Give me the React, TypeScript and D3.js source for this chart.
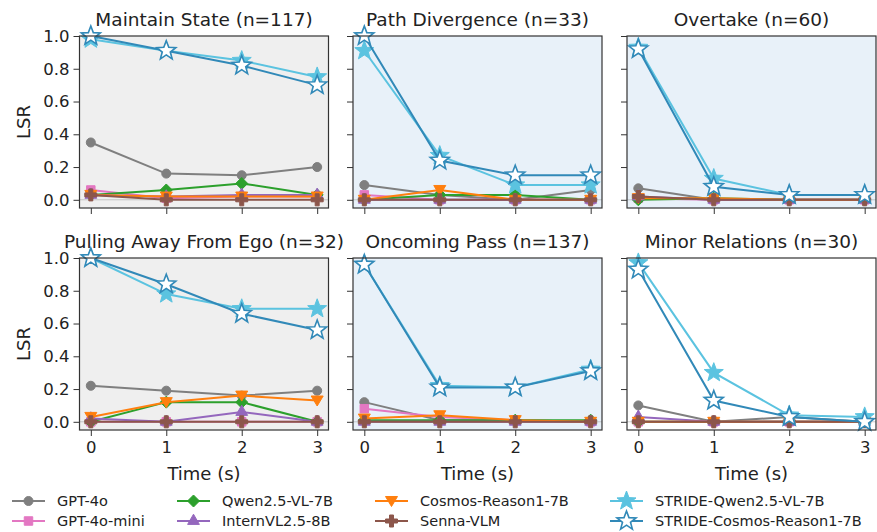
import React, { useEffect, useRef } from 'react';
import * as d3 from 'd3';

// time steps on the x axis
const times = [0, 1, 2, 3];
const xTickLabels = ['0', '1', '2', '3'];
const yTicks = [0, 0.2, 0.4, 0.6, 0.8, 1.0];

const scenarios = [
  'Maintain State (n=117)',
  'Path Divergence (n=33)',
  'Overtake (n=60)',
  'Pulling Away From Ego (n=32)',
  'Oncoming Pass (n=137)',
  'Minor Relations (n=30)',
];
const panelBg = ['#efefef', '#e8f1f9', '#e8f1f9', '#efefef', '#e8f1f9', '#ffffff'];

// LSR per model, one row per scenario (same order as scenarios)
const gpt4o = [
  [0.35, 0.16, 0.15, 0.2],
  [0.09, 0.03, 0.0, 0.06],
  [0.07, 0.0, 0.0, 0.0],
  [0.22, 0.19, 0.16, 0.19],
  [0.12, 0.01, 0.01, 0.0],
  [0.1, 0.0, 0.03, 0.0],
];
const gpt4oMini = [
  [0.06, 0.01, 0.02, 0.02],
  [0.03, 0.0, 0.0, 0.0],
  [0.01, 0.0, 0.0, 0.0],
  [0.0, 0.0, 0.0, 0.0],
  [0.08, 0.03, 0.01, 0.0],
  [0.0, 0.0, 0.0, 0.0],
];
const qwen = [
  [0.03, 0.06, 0.1, 0.03],
  [0.0, 0.03, 0.03, 0.0],
  [0.0, 0.01, 0.0, 0.0],
  [0.0, 0.12, 0.12, 0.0],
  [0.01, 0.01, 0.01, 0.01],
  [0.0, 0.0, 0.0, 0.0],
];
const internVL = [
  [0.03, 0.02, 0.03, 0.03],
  [0.0, 0.0, 0.0, 0.0],
  [0.02, 0.0, 0.0, 0.0],
  [0.02, 0.0, 0.06, 0.0],
  [0.0, 0.0, 0.0, 0.0],
  [0.03, 0.0, 0.0, 0.0],
];
const cosmos = [
  [0.03, 0.02, 0.02, 0.02],
  [0.0, 0.06, 0.0, 0.0],
  [0.01, 0.01, 0.0, 0.0],
  [0.03, 0.12, 0.16, 0.13],
  [0.02, 0.04, 0.01, 0.0],
  [0.0, 0.0, 0.0, 0.0],
];
const senna = [
  [0.03, 0.0, 0.0, 0.0],
  [0.0, 0.0, 0.0, 0.0],
  [0.02, 0.0, 0.0, 0.0],
  [0.0, 0.0, 0.0, 0.0],
  [0.0, 0.0, 0.0, 0.0],
  [0.0, 0.0, 0.0, 0.0],
];
const strideQwen = [
  [0.98, 0.91, 0.85, 0.75],
  [0.91, 0.27, 0.09, 0.09],
  [0.93, 0.13, 0.03, 0.03],
  [1.0, 0.78, 0.69, 0.69],
  [0.96, 0.22, 0.21, 0.32],
  [0.97, 0.3, 0.04, 0.03],
];
const strideCosmos = [
  [1.0, 0.91, 0.82, 0.7],
  [1.0, 0.24, 0.15, 0.15],
  [0.92, 0.08, 0.03, 0.03],
  [1.0, 0.84, 0.66, 0.56],
  [0.96, 0.21, 0.21, 0.31],
  [0.93, 0.13, 0.03, 0.0],
];

const models = [
  { name: 'GPT-4o', color: '#7f7f7f', marker: 'circle', values: gpt4o },
  { name: 'GPT-4o-mini', color: '#e377c2', marker: 'square', values: gpt4oMini },
  { name: 'Qwen2.5-VL-7B', color: '#2ca02c', marker: 'diamond', values: qwen },
  { name: 'InternVL2.5-8B', color: '#9467bd', marker: 'triUp', values: internVL },
  { name: 'Cosmos-Reason1-7B', color: '#ff7f0e', marker: 'triDown', values: cosmos },
  { name: 'Senna-VLM', color: '#8c564b', marker: 'plus', values: senna },
  { name: 'STRIDE-Qwen2.5-VL-7B', color: '#5bc3e0', marker: 'star', values: strideQwen },
  { name: 'STRIDE-Cosmos-Reason1-7B', color: '#3189b8', marker: 'starOpen', values: strideCosmos },
];

const FONT = 'DejaVu Sans, sans-serif';

const starPath = (r: number) => {
  const pts: [number, number][] = [];
  for (let i = 0; i < 10; i++) {
    const rr = i % 2 === 0 ? r : r * 0.42;
    const a = (Math.PI / 5) * i - Math.PI / 2;
    pts.push([rr * Math.cos(a), rr * Math.sin(a)]);
  }
  return 'M' + pts.map((p) => p.join(',')).join('L') + 'Z';
};

const markerPath = (m: string) => {
  if (m === 'circle') return d3.symbol(d3.symbolCircle, 64)()!;
  if (m === 'square') return d3.symbol(d3.symbolSquare, 72)()!;
  if (m === 'diamond') return 'M0,-6L6,0L0,6L-6,0Z';
  if (m === 'triUp') return d3.symbol(d3.symbolTriangle, 60)()!;
  if (m === 'triDown') return 'M0,5.5L-6,-4.5L6,-4.5Z';
  if (m === 'plus') return d3.symbol(d3.symbolCross, 80)()!;
  return starPath(10);
};

const App = () => {
  const svgRef = useRef<SVGSVGElement>(null);

  useEffect(() => {
    document.body.style.margin = '0';
    const svg = d3.select(svgRef.current);
    svg.selectAll('*').remove();

    const colLeft = [79.5, 353, 627];
    const rowTop = [36, 258];
    const w = 249;
    const h = 172;

    scenarios.forEach((title, i) => {
      const col = i % 3;
      const row = Math.floor(i / 3);
      const x0 = colLeft[col];
      const y0 = rowTop[row];

      const x = d3.scaleLinear().domain([-0.15, 3.15]).range([x0, x0 + w]);
      const y = d3.scaleLinear().domain([-0.05, 1.0]).range([y0 + h, y0]);

      const g = svg.append('g');

      g.append('rect')
        .attr('x', x0)
        .attr('y', y0)
        .attr('width', w)
        .attr('height', h)
        .attr('fill', panelBg[i]);

      // faint zero line
      g.append('line')
        .attr('x1', x0)
        .attr('x2', x0 + w)
        .attr('y1', y(0))
        .attr('y2', y(0))
        .attr('stroke', '#999')
        .attr('stroke-opacity', 0.5)
        .attr('stroke-width', 1);

      const line = d3
        .line<number>()
        .x((d, j) => x(times[j]))
        .y((d) => y(d));

      models.forEach((m) => {
        const vals = m.values[i];
        g.append('path')
          .attr('d', line(vals))
          .attr('fill', 'none')
          .attr('stroke', m.color)
          .attr('stroke-width', 2);

        g.selectAll(null)
          .data(vals)
          .enter()
          .append('path')
          .attr('d', markerPath(m.marker))
          .attr('transform', (d, j) => `translate(${x(times[j])},${y(d)})`)
          .attr('fill', m.marker === 'starOpen' ? '#ffffff' : m.color)
          .attr('stroke', m.color)
          .attr('stroke-width', m.marker === 'starOpen' ? 1.6 : 1)
          .attr('stroke-linejoin', 'miter');
      });

      // spines
      g.append('rect')
        .attr('x', x0)
        .attr('y', y0)
        .attr('width', w)
        .attr('height', h)
        .attr('fill', 'none')
        .attr('stroke', '#333')
        .attr('stroke-width', 1.2);

      // y ticks
      const yAxis = d3
        .axisLeft(y)
        .tickValues(yTicks)
        .tickSize(6)
        .tickPadding(4)
        .tickFormat((d) => (col === 0 ? d3.format('.1f')(d as number) : ''));
      const ya = g.append('g').attr('transform', `translate(${x0},0)`).call(yAxis);
      ya.select('.domain').remove();
      ya.selectAll('line').attr('stroke', '#333').attr('stroke-width', 1);
      ya.selectAll('text').attr('font-family', FONT).attr('font-size', 16.5).attr('fill', '#222');

      // x ticks
      const xAxis = d3
        .axisBottom(x)
        .tickValues(times)
        .tickSize(6)
        .tickPadding(5)
        .tickFormat((d, j) => (row === 1 ? xTickLabels[j] : ''));
      const xa = g.append('g').attr('transform', `translate(0,${y0 + h})`).call(xAxis);
      xa.select('.domain').remove();
      xa.selectAll('line').attr('stroke', '#333').attr('stroke-width', 1);
      xa.selectAll('text').attr('font-family', FONT).attr('font-size', 16.5).attr('fill', '#222');

      g.append('text')
        .attr('x', x0 + w / 2)
        .attr('y', y0 - 10)
        .attr('text-anchor', 'middle')
        .attr('font-family', FONT)
        .attr('font-size', 18.5)
        .attr('fill', '#222')
        .text(title);

      if (col === 0) {
        g.append('text')
          .attr('transform', `translate(30,${y0 + h / 2}) rotate(-90)`)
          .attr('text-anchor', 'middle')
          .attr('font-family', FONT)
          .attr('font-size', 18)
          .attr('fill', '#222')
          .text('LSR');
      }
      if (row === 1) {
        g.append('text')
          .attr('x', x0 + w / 2)
          .attr('y', y0 + h + 50)
          .attr('text-anchor', 'middle')
          .attr('font-family', FONT)
          .attr('font-size', 18)
          .attr('fill', '#222')
          .text('Time (s)');
      }
    });

    // legend: 4 columns, 2 rows, filled column by column
    const legendTextX = [57, 222, 420, 655];
    const legendRowY = [501, 521];
    const lg = svg.append('g');
    models.forEach((m, i) => {
      const tx = legendTextX[Math.floor(i / 2)];
      const ty = legendRowY[i % 2];
      lg.append('line')
        .attr('x1', tx - 45)
        .attr('x2', tx - 12)
        .attr('y1', ty)
        .attr('y2', ty)
        .attr('stroke', m.color)
        .attr('stroke-width', 2);
      lg.append('path')
        .attr('d', markerPath(m.marker))
        .attr('transform', `translate(${tx - 28.5},${ty})`)
        .attr('fill', m.marker === 'starOpen' ? '#ffffff' : m.color)
        .attr('stroke', m.color)
        .attr('stroke-width', m.marker === 'starOpen' ? 1.6 : 1);
      lg.append('text')
        .attr('x', tx)
        .attr('y', ty + 5)
        .attr('font-family', FONT)
        .attr('font-size', 14.5)
        .attr('fill', '#222')
        .text(m.name);
    });
  }, []);

  return <svg ref={svgRef} width={877} height={532} style={{ display: 'block' }} />;
};

export default App;
